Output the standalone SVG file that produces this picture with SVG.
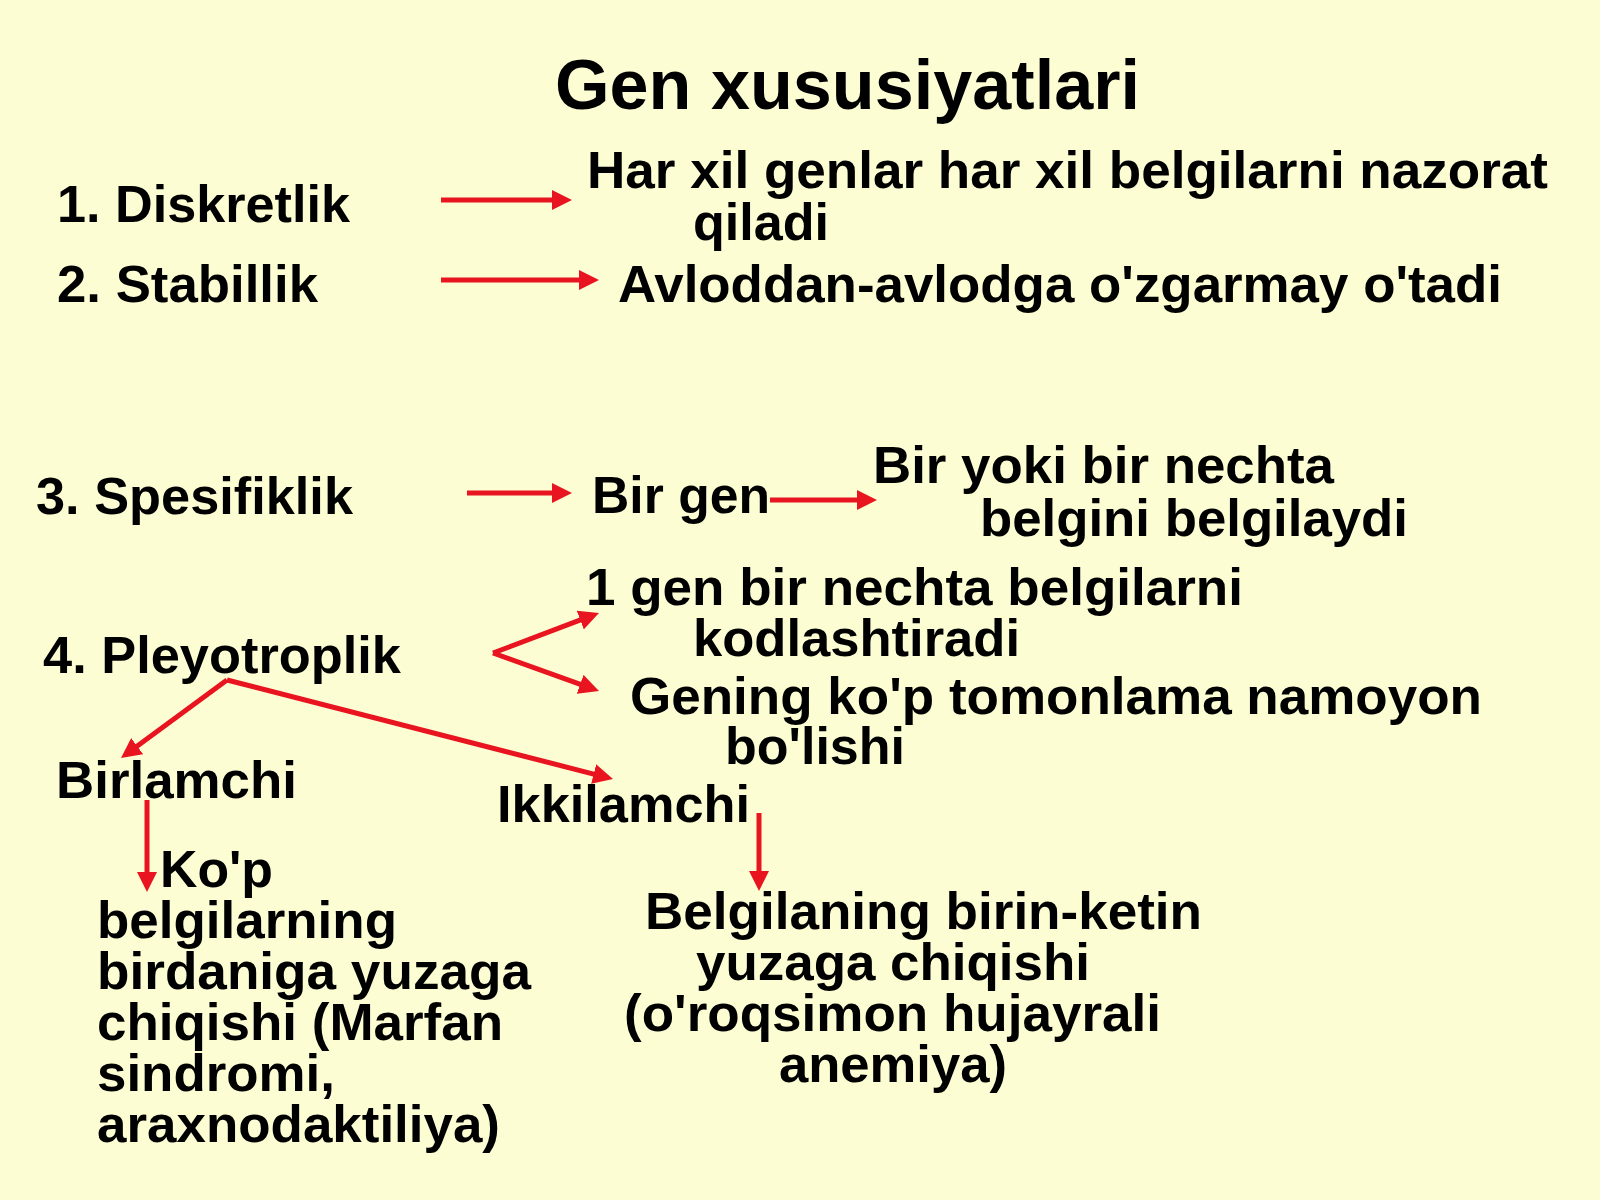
<svg xmlns="http://www.w3.org/2000/svg" width="1600" height="1200" viewBox="0 0 1600 1200">
<style>
text{font-family:"Liberation Sans",Arial,sans-serif;font-weight:bold;fill:#000;font-size:52px}
.title{font-size:70px}
.con{stroke:#e8141f;stroke-width:5;fill:none;marker-end:url(#ah)}
</style>
<defs>
<marker id="ah" markerUnits="userSpaceOnUse" markerWidth="20" markerHeight="20" refX="1" refY="10" orient="auto">
<path d="M0,0 L20,10 L0,20 z" fill="#e8141f"/>
</marker>
</defs>
<rect width="1600" height="1200" fill="#fdfdd4"/>
<g id="title"><text class="title" x="555" y="109" textLength="585" lengthAdjust="spacingAndGlyphs">Gen xususiyatlari</text></g>
<g id="n1"><text x="57" y="222" textLength="293" lengthAdjust="spacingAndGlyphs">1. Diskretlik</text></g>
<g id="n1r"><text x="587" y="188" textLength="961" lengthAdjust="spacingAndGlyphs">Har xil genlar har xil belgilarni nazorat</text><text x="693" y="240" textLength="136" lengthAdjust="spacingAndGlyphs">qiladi</text></g>
<g id="n2"><text x="57" y="302" textLength="261" lengthAdjust="spacingAndGlyphs">2. Stabillik</text></g>
<g id="n2r"><text x="618" y="302" textLength="884" lengthAdjust="spacingAndGlyphs">Avloddan-avlodga o'zgarmay o'tadi</text></g>
<g id="n3"><text x="36" y="514" textLength="317" lengthAdjust="spacingAndGlyphs">3. Spesifiklik</text></g>
<g id="n3a"><text x="592" y="513" textLength="178" lengthAdjust="spacingAndGlyphs">Bir gen</text></g>
<g id="n3b"><text x="873" y="483" textLength="461" lengthAdjust="spacingAndGlyphs">Bir yoki bir nechta</text><text x="980" y="536" textLength="428" lengthAdjust="spacingAndGlyphs">belgini belgilaydi</text></g>
<g id="n4"><text x="43" y="673" textLength="358" lengthAdjust="spacingAndGlyphs">4. Pleyotroplik</text></g>
<g id="n4a"><text x="586" y="605" textLength="657" lengthAdjust="spacingAndGlyphs">1 gen bir nechta belgilarni</text><text x="693" y="656" textLength="327" lengthAdjust="spacingAndGlyphs">kodlashtiradi</text></g>
<g id="n4b"><text x="630" y="714" textLength="852" lengthAdjust="spacingAndGlyphs">Gening ko'p tomonlama namoyon</text><text x="725" y="764" textLength="180" lengthAdjust="spacingAndGlyphs">bo'lishi</text></g>
<g id="birlamchi"><text x="56" y="798" textLength="241" lengthAdjust="spacingAndGlyphs">Birlamchi</text></g>
<g id="ikkilamchi"><text x="497" y="822" textLength="253" lengthAdjust="spacingAndGlyphs">Ikkilamchi</text></g>
<g id="birlamchi-desc">
<text x="160" y="887" textLength="113" lengthAdjust="spacingAndGlyphs">Ko'p</text>
<text x="97" y="938" textLength="300" lengthAdjust="spacingAndGlyphs">belgilarning</text>
<text x="97" y="989" textLength="434" lengthAdjust="spacingAndGlyphs">birdaniga yuzaga</text>
<text x="97" y="1040" textLength="406" lengthAdjust="spacingAndGlyphs">chiqishi (Marfan</text>
<text x="97" y="1091" textLength="238" lengthAdjust="spacingAndGlyphs">sindromi,</text>
<text x="97" y="1142" textLength="403" lengthAdjust="spacingAndGlyphs">araxnodaktiliya)</text>
</g>
<g id="ikkilamchi-desc">
<text x="645" y="929" textLength="557" lengthAdjust="spacingAndGlyphs">Belgilaning birin-ketin</text>
<text x="696" y="980" textLength="394" lengthAdjust="spacingAndGlyphs">yuzaga chiqishi</text>
<text x="624" y="1031" textLength="537" lengthAdjust="spacingAndGlyphs">(o'roqsimon hujayrali</text>
<text x="779" y="1082" textLength="228" lengthAdjust="spacingAndGlyphs">anemiya)</text>
</g>
<g id="connectors">
<path class="con" d="M441,200 L553,200"/>
<path class="con" d="M441,280 L580,280"/>
<path class="con" d="M467,493 L553,493"/>
<path class="con" d="M770,500 L858,500"/>
<path class="con" d="M493,653 L581.2,619.7"/>
<path class="con" d="M493,653 L581.1,684.6"/>
<path class="con" d="M227,680 L136.3,746.7"/>
<path class="con" d="M227,680 L594.6,774.3"/>
<path class="con" d="M147,800 L147,873"/>
<path class="con" d="M759,813 L759,872"/>
</g>
</svg>
